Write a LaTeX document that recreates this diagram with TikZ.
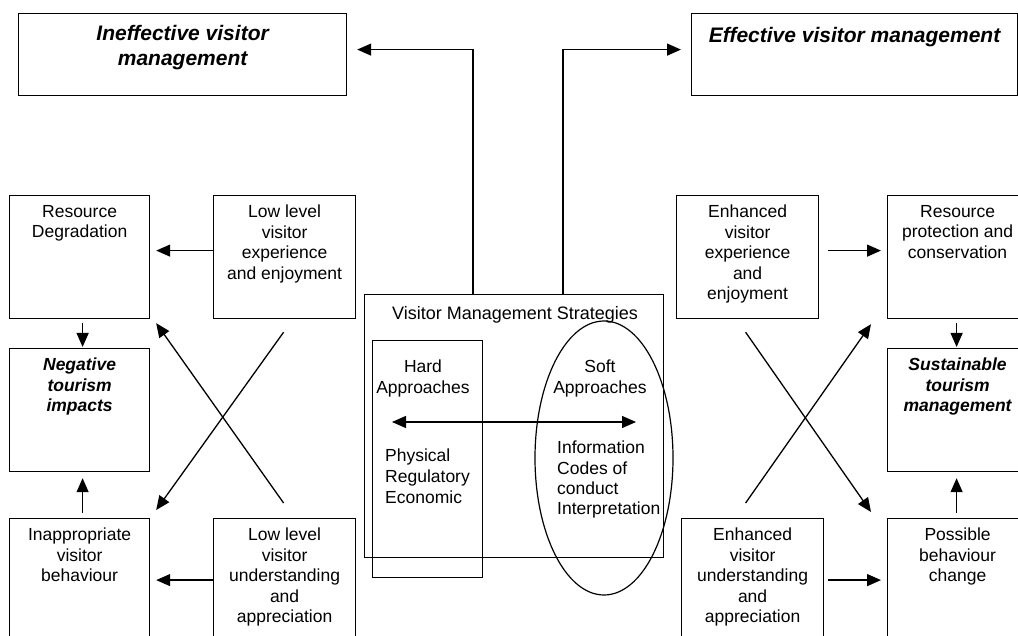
\documentclass[tikz,border=0pt]{standalone}
\usepackage{fontspec}
\setmainfont{Liberation Sans}
\usetikzlibrary{arrows.meta,calc,shapes.geometric}
\begin{document}
\begin{tikzpicture}[x=1pt,y=-1pt,
  frame/.style={draw,line width=1.2pt,inner sep=0pt,anchor=north west},
  txt/.style={font=\fontsize{17.5}{20.5}\selectfont,align=center,inner sep=0pt,anchor=north},
  ltxt/.style={font=\fontsize{17.5}{20.7}\selectfont,align=left,inner sep=0pt,anchor=north west},
  head/.style={font=\fontsize{21}{25}\selectfont\bfseries\itshape,align=center,inner sep=0pt,anchor=north},
  emph/.style={txt,font=\fontsize{17.5}{20.5}\selectfont\bfseries\itshape},
  arr/.style={line width=1.3pt,-{Triangle[length=14pt,width=12pt]}}
]
\path[use as bounding box] (0,0) rectangle (1018,636);
\clip (0,0) rectangle (1018,636);

% outcome boxes at the top
\node[frame,minimum width=328pt,minimum height=82pt] (ineff) at (18,13) {};
\node[head] (ineffT) at ($(ineff.north)+(0,12)$) {Ineffective visitor\\management};
\node[frame,minimum width=326pt,minimum height=82pt] (eff) at (691,13) {};
\node[head] (effT) at ($(eff.north)+(0,14)$) {Effective visitor management};

% left column: negative chain
\node[frame,minimum width=140pt,minimum height=123pt] (rd) at (9,195) {};
\node[txt] (rdT) at ($(rd.north)+(0,10)$) {Resource\\Degradation};
\node[frame,minimum width=142pt,minimum height=123pt] (lowexp) at (213,195) {};
\node[txt] (lowexpT) at ($(lowexp.north)+(0,10)$) {Low level\\visitor\\experience\\and enjoyment};
\node[frame,minimum width=140pt,minimum height=123pt] (neg) at (9,348) {};
\node[emph] (negT) at ($(neg.north)+(0,10)$) {Negative\\tourism\\impacts};
\node[frame,minimum width=140pt,minimum height=135pt] (inapp) at (9,518) {};
\node[txt] (inappT) at ($(inapp.north)+(0,10)$) {Inappropriate\\visitor\\behaviour};
\node[frame,minimum width=142pt,minimum height=135pt] (lowund) at (213,518) {};
\node[txt] (lowundT) at ($(lowund.north)+(0,10)$) {Low level\\visitor\\understanding\\and\\appreciation};

% right column: positive chain
\node[frame,minimum width=142pt,minimum height=123pt] (enhexp) at (676,195) {};
\node[txt] (enhexpT) at ($(enhexp.north)+(0,10)$) {Enhanced\\visitor\\experience\\and\\enjoyment};
\node[frame,minimum width=140pt,minimum height=123pt] (resprot) at (887,195) {};
\node[txt] (resprotT) at ($(resprot.north)+(0,10)$) {Resource\\protection and\\conservation};
\node[frame,minimum width=140pt,minimum height=123pt] (sust) at (887,348) {};
\node[emph] (sustT) at ($(sust.north)+(0,10)$) {Sustainable\\tourism\\management};
\node[frame,minimum width=140pt,minimum height=135pt] (poss) at (887,518) {};
\node[txt] (possT) at ($(poss.north)+(0,10)$) {Possible\\behaviour\\change};
\node[frame,minimum width=142pt,minimum height=135pt] (enhund) at (681,518) {};
\node[txt] (enhundT) at ($(enhund.north)+(0,10)$) {Enhanced\\visitor\\understanding\\and\\appreciation};

% central strategies panel
\node[frame,minimum width=299pt,minimum height=263pt] (vms) at (364,294) {};
\node[txt,font=\fontsize{18}{21}\selectfont] (vmsT) at ($(vms.north)+(1,12)$) {Visitor Management Strategies};
\node[frame,minimum width=110pt,minimum height=237pt] (hard) at (372,340) {};
\node[txt] (hardT) at (423,360) {Hard\\Approaches};
\node[ltxt] (hardL) at (385,449) {Physical\\Regulatory\\Economic};
\node[draw,ellipse,line width=1.2pt,minimum width=138pt,minimum height=274pt,inner sep=0pt] (soft) at (604,458) {};
\node[txt] (softT) at (600,360) {Soft\\Approaches};
\node[ltxt,font=\fontsize{17.5}{20.3}\selectfont] (softL) at (557,441) {Information\\Codes of\\conduct\\Interpretation};
\coordinate (dl) at (392,422);
\coordinate (dr) at (636,422);
\draw[line width=1.3pt,{Triangle[length=14pt,width=12pt]}-{Triangle[length=14pt,width=12pt]}] (dl) -- (dr);

% links from the strategies panel to the outcomes
\draw[arr,shorten >=10pt] ($(vms.north west)+(109,0)$) |- ([yshift=5pt]ineff.east);
\draw[arr,shorten >=10pt] ($(vms.north west)+(199,0)$) |- ([yshift=5pt]eff.west);

% left column arrows
\draw[arr,shorten >=6pt] ([yshift=6.5pt]lowexp.west) -- ([yshift=6.5pt]lowexp.west -| rd.east);
\draw[arr,shorten >=6pt] ([yshift=6pt]lowund.west) -- ([yshift=6pt]lowund.west -| inapp.east);
\draw[arr,shorten <=4pt,shorten >=1pt] ([xshift=3pt]rd.south) -- ([xshift=3pt]neg.north);
\draw[arr,shorten <=5pt,shorten >=6pt] ([xshift=3pt]inapp.north) -- ([xshift=3pt]neg.south);
\draw[arr] ($(lowund.north)+(-1,-15)$) -- ($(rd.south east)+(6,4)$);
\draw[arr] ($(lowexp.south)+(-1,13)$) -- ($(inapp.north east)+(6,-8)$);

% right column arrows
\draw[arr,shorten <=9pt,shorten >=6pt] ([yshift=6.5pt]enhexp.east) -- ([yshift=6.5pt]enhexp.east -| resprot.west);
\draw[arr,shorten <=4pt,shorten >=6pt] ([yshift=6pt]enhund.east) -- ([yshift=6pt]enhund.east -| poss.west);
\draw[arr,shorten <=4pt,shorten >=1pt] ([xshift=-1pt]resprot.south) -- ([xshift=-1pt]sust.north);
\draw[arr,shorten <=5pt,shorten >=6pt] ([xshift=-1pt]poss.north) -- ([xshift=-1pt]sust.south);
\draw[arr] ($(enhexp.south)+(-2,13)$) -- ($(poss.north west)+(-16,-6)$);
\draw[arr] ($(enhund.north)+(-7,-15)$) -- ($(resprot.south west)+(-16,5)$);
\end{tikzpicture}
\end{document}
